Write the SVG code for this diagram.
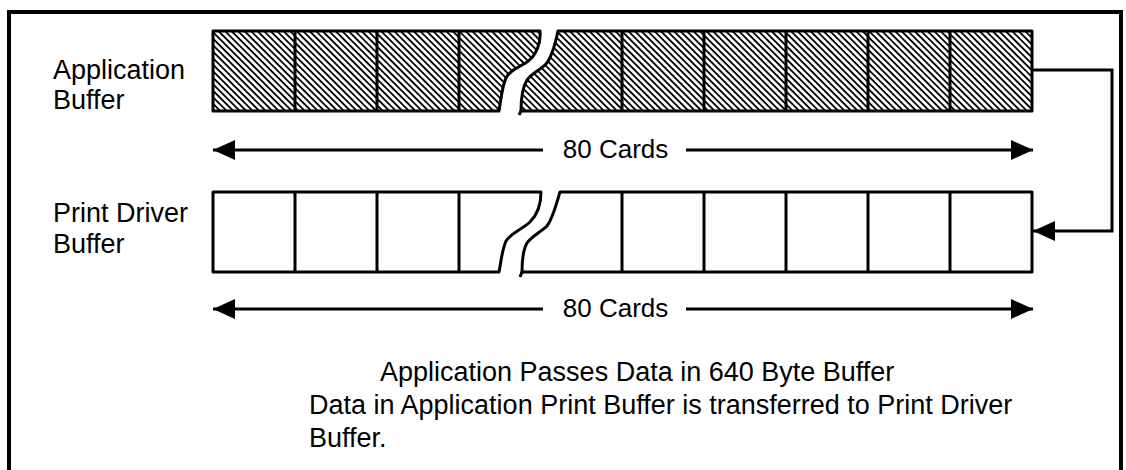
<svg xmlns="http://www.w3.org/2000/svg" width="1126" height="470" viewBox="0 0 1126 470">
<style>
  .txt { font-family: "Liberation Sans", Arial, Helvetica, sans-serif; fill: #000; }
  .lbl { font-size: 27px; }
  .cards { font-size: 26px; }
  .note { font-size: 27px; }
  .hatched { fill: url(#hatch); stroke: #000; stroke-width: 3; stroke-linejoin: round; }
  .plain { fill: #fff; stroke: #000; stroke-width: 3; stroke-linejoin: round; }
  .edge { fill: none; stroke: #000; stroke-width: 3; }
  .cell { fill: none; stroke: #000; stroke-width: 3; }
  .line { fill: none; stroke: #000; stroke-width: 3; }
</style>
<defs>
  <pattern id="hatch" width="4.6" height="4.6" patternUnits="userSpaceOnUse" patternTransform="rotate(45)">
    <rect x="0" y="0" width="4.6" height="4.6" fill="#fff"/>
    <rect x="0" y="0" width="4.6" height="1.8" fill="#000"/>
  </pattern>
  <marker id="ah" viewBox="0 0 22 20" refX="22" refY="10" markerWidth="22" markerHeight="20" markerUnits="userSpaceOnUse" orient="auto">
    <path d="M0,0 L22,10 L0,20 Z" fill="#000"/>
  </marker>
</defs>
<rect x="0" y="0" width="1126" height="470" fill="#fff"/>

<!-- frame -->
<path d="M9,472 V12 H1121 V472" fill="none" stroke="#000" stroke-width="4"/>

<g id="app-buffer">
  <path d="M213,31 H540 C541,42 537,55 527,62 C518,68 510,70 506,78 C502,86 501,100 499,111 H213 Z" class="hatched"/>
  <path d="M558,31 H1032 V111 H521 C521,98 522,88 527,80 C532,73 540,70 546,64 C552,57 555,45 558,31 Z" class="hatched"/>
  <path d="M521,111 L519,115" class="edge"/>
  <path d="M295,31 V111 M377,31 V111 M459,31 V111 M622,31 V111 M704,31 V111 M786,31 V111 M868,31 V111 M950,31 V111" class="cell"/>
  <text class="txt lbl" x="53" y="79">Application</text>
  <text class="txt lbl" x="53" y="109">Buffer</text>
</g>

<g id="driver-buffer">
  <path d="M213,192 H541 C541,203 538,214 530,222 C521,230 511,233 506,241 C502,250 501,262 499,272 H213 Z" class="plain"/>
  <path d="M560,192 H1032 V272 H522 C522,258 523,250 527,243 C532,236 541,232 547,226 C553,218 556,205 560,192 Z" class="plain"/>
  <path d="M522,272 L520,277" class="edge"/>
  <path d="M295,192 V272 M377,192 V272 M459,192 V272 M622,192 V272 M704,192 V272 M786,192 V272 M868,192 V272 M950,192 V272" class="cell"/>
  <text class="txt lbl" x="53" y="222">Print Driver</text>
  <text class="txt lbl" x="53" y="253">Buffer</text>
</g>

<g id="dim-1">
  <text class="txt cards" x="615.5" y="158" text-anchor="middle">80 Cards</text>
</g>
<g id="dim-2">
  <text class="txt cards" x="615.5" y="317" text-anchor="middle">80 Cards</text>
</g>

<g id="connectors">
  <path d="M543,150 H213" class="line" marker-end="url(#ah)"/>
  <path d="M686,150 H1033" class="line" marker-end="url(#ah)"/>
  <path d="M543,309 H213" class="line" marker-end="url(#ah)"/>
  <path d="M686,309 H1033" class="line" marker-end="url(#ah)"/>
  <path d="M1032,70 H1112 V231 H1033" class="line" marker-end="url(#ah)"/>
</g>

<g id="notes">
  <text class="txt note" x="380" y="381">Application Passes Data in 640 Byte Buffer</text>
  <text class="txt note" x="309" y="414">Data in Application Print Buffer is transferred to Print Driver</text>
  <text class="txt note" x="309" y="447">Buffer.</text>
</g>
</svg>
